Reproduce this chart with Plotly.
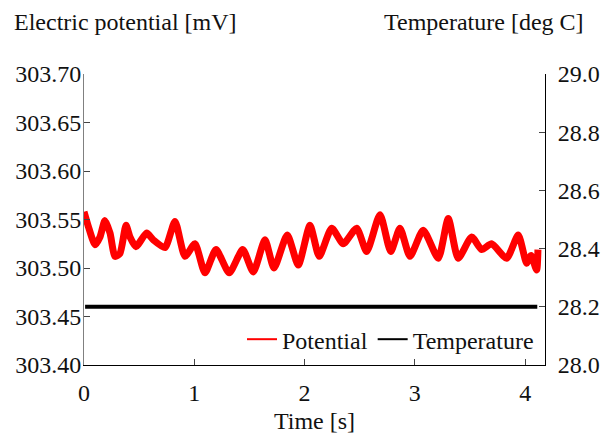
import plotly.graph_objects as go

# Time [s] and potential [mV] (peaks and troughs)
time_s = [0.000, 0.039, 0.100, 0.145, 0.190, 0.236, 0.281, 0.326, 0.381, 0.417,
          0.471, 0.568, 0.628, 0.734, 0.825, 0.916, 1.006, 1.097, 1.197, 1.317,
          1.439, 1.535, 1.641, 1.723, 1.843, 1.943, 2.049, 2.133, 2.246, 2.351,
          2.472, 2.563, 2.684, 2.781, 2.865, 2.956, 3.076, 3.212, 3.303, 3.393,
          3.515, 3.606, 3.696, 3.832, 3.937, 4.014, 4.053, 4.104, 4.116]
potential_mv = [303.558, 303.543, 303.524, 303.532, 303.549, 303.536, 303.512, 303.515, 303.544, 303.532,
                303.522, 303.536, 303.529, 303.521, 303.548, 303.512, 303.525, 303.495, 303.519, 303.495,
                303.519, 303.496, 303.529, 303.500, 303.534, 303.503, 303.544, 303.512, 303.541, 303.525,
                303.541, 303.517, 303.555, 303.517, 303.541, 303.512, 303.539, 303.510, 303.551, 303.510,
                303.532, 303.519, 303.525, 303.510, 303.534, 303.505, 303.513, 303.498, 303.519]

temp_time_s = [0.01, 4.11]
temperature_c = [28.2, 28.2]

left_ticks = [303.40, 303.45, 303.50, 303.55, 303.60, 303.65, 303.70]
right_ticks = [28.0, 28.2, 28.4, 28.6, 28.8, 29.0]
x_ticks = [0, 1, 2, 3, 4]

FONT = "Liberation Serif"
FS = 24

fig = go.Figure()
fig.add_trace(go.Scatter(x=time_s, y=potential_mv, mode="lines", name="Potential",
                         line=dict(color="#ff0000", width=7, shape="spline", smoothing=0.6),
                         yaxis="y", showlegend=False))
fig.add_trace(go.Scatter(x=temp_time_s, y=temperature_c, mode="lines", name="Temperature",
                         line=dict(color="#000000", width=4), yaxis="y2", showlegend=False))
# legend entries with thin sample lines, as in the reference
fig.add_trace(go.Scatter(x=[None], y=[None], mode="lines", name="Potential",
                         line=dict(color="#ff0000", width=2), yaxis="y"))
fig.add_trace(go.Scatter(x=[None], y=[None], mode="lines", name="Temperature",
                         line=dict(color="#000000", width=2), yaxis="y2"))

fig.update_layout(
    width=611, height=434,
    margin=dict(l=84, r=66, t=74, b=69),
    paper_bgcolor="white", plot_bgcolor="white",
    font=dict(family=FONT, size=FS, color="#111111"),
    showlegend=True,
    legend=dict(orientation="h", x=0.987, y=0.01, xanchor="right", yanchor="bottom",
                bgcolor="rgba(255,255,255,0)", font=dict(size=FS), itemwidth=30,
                tracegroupgap=0),
    xaxis=dict(range=[0, 4.18], tickvals=x_ticks, ticks="inside", ticklen=6,
               showline=True, linecolor="black", linewidth=1, mirror=False,
               showgrid=False, zeroline=False, ticklabelstandoff=6, automargin=False,
               title=dict(text="Time [s]", standoff=8, font=dict(size=FS))),
    yaxis=dict(range=[303.40, 303.70], tickvals=left_ticks, tickformat=".2f",
               ticks="inside", ticklen=6, showline=True, linecolor="#808080",
               linewidth=1, showgrid=False, zeroline=False, ticklabelstandoff=-3,
               automargin=False),
    yaxis2=dict(range=[28.0, 29.0], tickvals=right_ticks, tickformat=".1f",
                overlaying="y", side="right", ticks="inside", ticklen=6,
                showline=True, linecolor="black", linewidth=1, automargin=False,
                showgrid=False, zeroline=False, ticklabelstandoff=7),
    annotations=[
        dict(text="Electric potential [mV]", xref="paper", yref="paper",
             x=-0.156, y=1.1787, xanchor="left", yanchor="middle",
             showarrow=False, font=dict(size=FS)),
        dict(text="Temperature [deg C]", xref="paper", yref="paper",
             x=1.089, y=1.1787, xanchor="right", yanchor="middle",
             showarrow=False, font=dict(size=FS)),
    ],
)

fig.write_html("out.html")
